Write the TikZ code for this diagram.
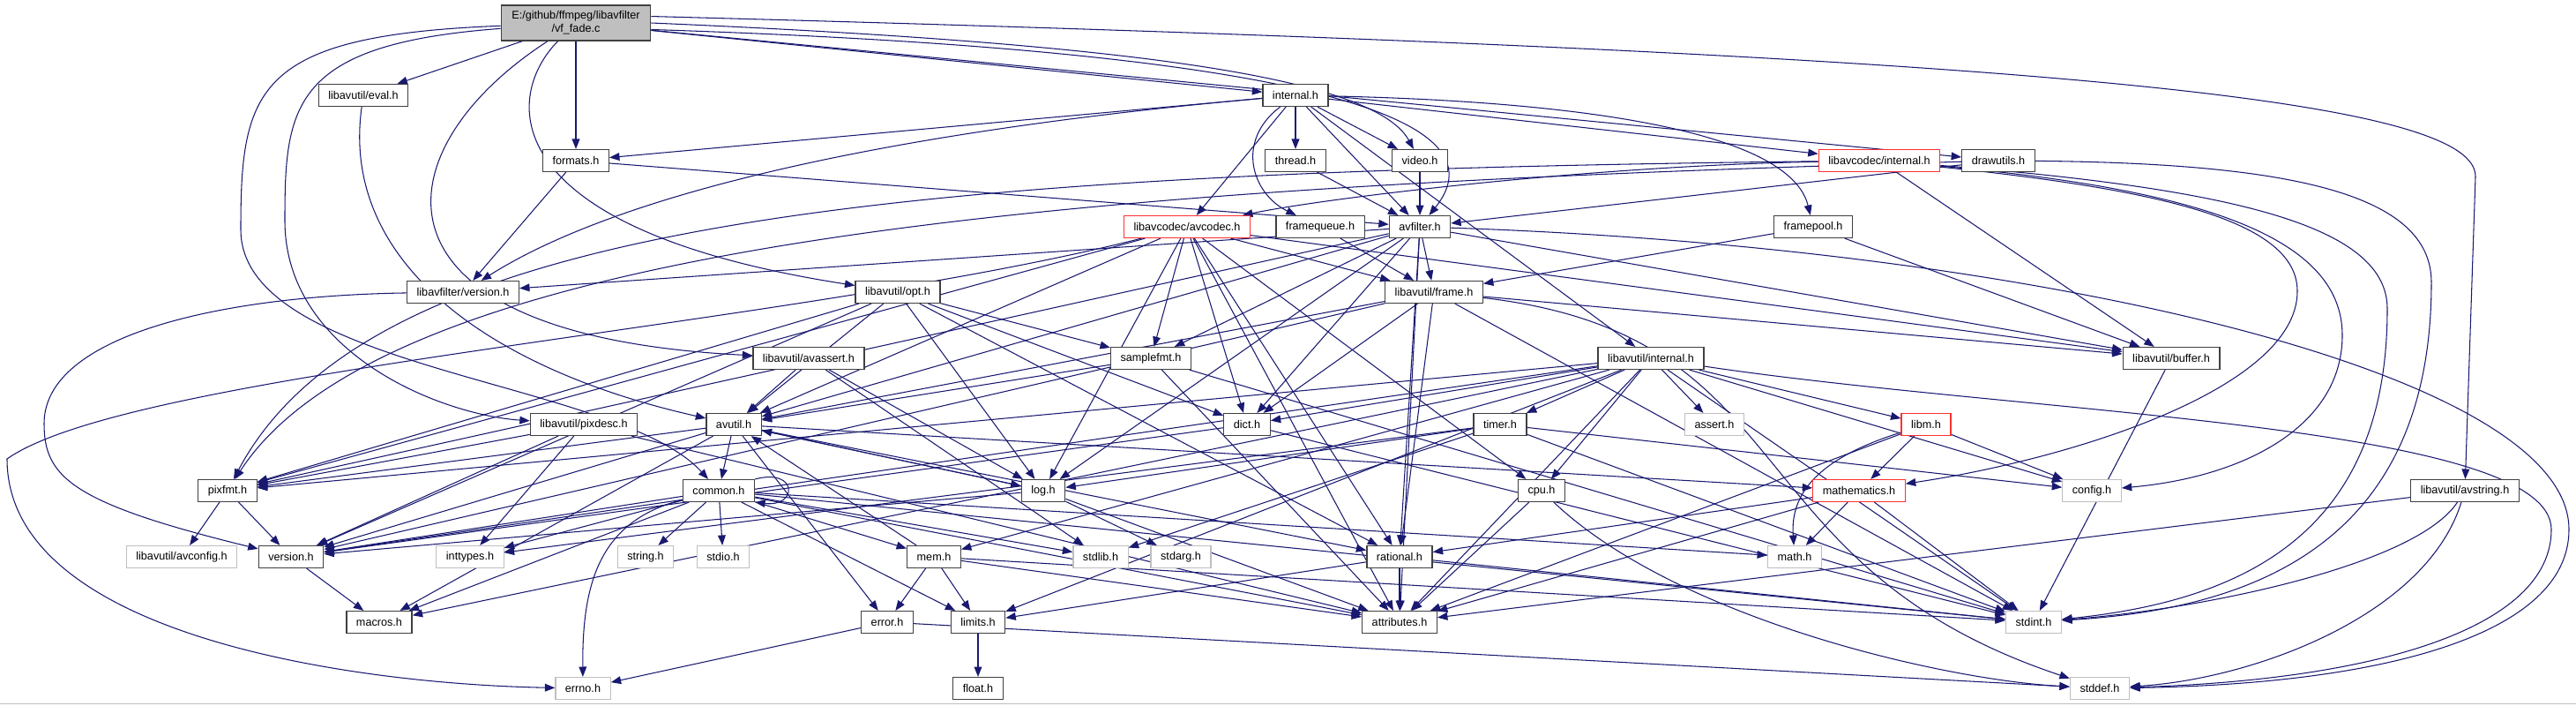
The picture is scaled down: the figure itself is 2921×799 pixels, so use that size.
\documentclass[tikz,border=0pt]{standalone}
\usepackage{fontspec}
\setmainfont{Liberation Sans}
\usetikzlibrary{arrows.meta}
\definecolor{dxEdge}{HTML}{191970}
\definecolor{dxRed}{HTML}{FF3030}
\definecolor{dxGrey}{HTML}{BFBFBF}
\definecolor{dxBorder}{HTML}{404040}
\pgfdeclarelayer{edges}
\pgfsetlayers{edges,main}
\tikzset{
  hdr/.style     = {draw=dxBorder, fill=white, line width=0.7pt, inner xsep=6.3pt, inner ysep=0pt,
                    minimum height=14.2pt, font=\fontsize{7.2}{8.6}\selectfont},
  hdrred/.style  = {hdr, draw=dxRed},
  hdrsys/.style  = {hdr, draw=dxGrey},
  rootbox/.style = {hdr, fill=dxGrey, align=center, inner xsep=2pt, minimum width=96.4pt, minimum height=22.7pt},
  dep/.style     = {-{Triangle[length=6.5pt, width=5pt]}, dxEdge, line width=0.6pt},
}

\begin{document}
\begin{tikzpicture}[x=0.02cm, y=-0.02cm]
\useasboundingbox (0,0) rectangle (2921,799);
\draw[dxGrey, line width=0.6pt] (0,797.5) -- (2921,797.5);

% ---- ranks 0-3 -------------------------------------------------------------
\node[rootbox] (vf) at (653,26) {E:/github/ffmpeg/libavfilter\\/vf\_fade.c};
\node[hdr]    (eval)      at (412,108)  {libavutil/eval.h};
\node[hdr]    (lafint)    at (1469,108) {internal.h};
\node[hdr]    (formats)   at (653,182)  {formats.h};
\node[hdr]    (thread)    at (1469,182) {thread.h};
\node[hdr]    (video)     at (1610,182) {video.h};
\node[hdrred] (lcint)     at (2131,182) {libavcodec/internal.h};
\node[hdr]    (drawutils) at (2266,182) {drawutils.h};
\node[hdrred] (avcodec)   at (1346,257) {libavcodec/avcodec.h};
\node[hdr]    (fqueue)    at (1497,257) {framequeue.h};
\node[hdr]    (avfilter)  at (1610,257) {avfilter.h};
\node[hdr]    (fpool)     at (2056,257) {framepool.h};

% ---- ranks 4-6 -------------------------------------------------------------
\node[hdr]    (lafver)    at (525,331)  {libavfilter/version.h};
\node[hdr]    (opt)       at (1018,331) {libavutil/opt.h};
\node[hdr]    (frame)     at (1626,331) {libavutil/frame.h};
\node[hdr]    (avassert)  at (917,406)  {libavutil/avassert.h};
\node[hdr]    (samplefmt) at (1305,406) {samplefmt.h};
\node[hdr]    (luint)     at (1872,406) {libavutil/internal.h};
\node[hdr]    (buffer)    at (2462,406) {libavutil/buffer.h};
\node[hdr]    (pixdesc)   at (662,481)  {libavutil/pixdesc.h};
\node[hdr]    (avutil)    at (832,481)  {avutil.h};
\node[hdr]    (dict)      at (1414,481) {dict.h};
\node[hdr]    (timer)     at (1701,481) {timer.h};
\node[hdrsys] (assert)    at (1944,481) {assert.h};
\node[hdrred] (libm)      at (2184,481) {libm.h};

% ---- ranks 7-10 ------------------------------------------------------------
\node[hdr]    (pixfmt)    at (258,556)  {pixfmt.h};
\node[hdr]    (common)    at (815,556)  {common.h};
\node[hdr]    (log)       at (1183,556) {log.h};
\node[hdr]    (cpu)       at (1748,556) {cpu.h};
\node[hdrred] (mathematics) at (2108,556) {mathematics.h};
\node[hdrsys] (config)    at (2372,556) {config.h};
\node[hdr]    (avstring)  at (2795,556) {libavutil/avstring.h};
\node[hdrsys] (avconfig)  at (206,631)  {libavutil/avconfig.h};
\node[hdr]    (version)   at (330,631)  {version.h};
\node[hdrsys] (inttypes)  at (533,631)  {inttypes.h};
\node[hdrsys] (string)    at (732,631)  {string.h};
\node[hdrsys] (stdio)     at (820,631)  {stdio.h};
\node[hdr]    (mem)       at (1059,631) {mem.h};
\node[hdrsys] (stdlib)    at (1248,631) {stdlib.h};
\node[hdrsys] (stdarg)    at (1339,631) {stdarg.h};
\node[hdr]    (rational)  at (1587,631) {rational.h};
\node[hdrsys] (math)      at (2035,631) {math.h};
\node[hdr]    (macros)    at (430,705)  {macros.h};
\node[hdr]    (error)     at (1006,705) {error.h};
\node[hdr]    (limits)    at (1109,705) {limits.h};
\node[hdr]    (attributes) at (1587,705) {attributes.h};
\node[hdrsys] (stdint)    at (2306,705) {stdint.h};
\node[hdrsys] (errno)     at (661,780)  {errno.h};
\node[hdr]    (float)     at (1109,780) {float.h};
\node[hdrsys] (stddef)    at (2381,780) {stddef.h};

\begin{pgfonlayer}{edges}
% ---- straight includes -----------------------------------------------------
\foreach \s/\t in {vf/eval, vf/formats, vf/lafint, vf/drawutils,
    lafint/thread, lafint/video, lafint/avfilter, lafint/avcodec, lafint/lcint,
    lafint/formats, lafint/luint,
    formats/avfilter, formats/lafver, thread/avfilter, video/avfilter,
    lcint/buffer, drawutils/avfilter,
    avcodec/samplefmt, avcodec/attributes, avcodec/avutil, avcodec/buffer, avcodec/cpu,
    avcodec/dict, avcodec/frame, avcodec/log, avcodec/pixfmt, avcodec/rational,
    fqueue/frame, fpool/buffer, fpool/frame,
    avfilter/attributes, avfilter/avutil, avfilter/buffer, avfilter/dict, avfilter/frame,
    avfilter/log, avfilter/samplefmt, avfilter/pixfmt, avfilter/rational, avfilter/lafver,
    opt/rational, opt/avutil, opt/dict, opt/log, opt/pixfmt, opt/samplefmt, opt/version,
    frame/stdint, frame/avutil, frame/buffer, frame/dict, frame/rational, frame/version,
    avassert/stdlib, avassert/avutil, avassert/log,
    samplefmt/stdint, samplefmt/avutil, samplefmt/attributes,
    luint/limits, luint/stdint, luint/assert, luint/config, luint/attributes, luint/timer,
    luint/cpu, luint/dict, luint/macros, luint/mem, luint/pixfmt, luint/version, luint/libm,
    buffer/stdint,
    pixdesc/inttypes, pixdesc/attributes, pixdesc/pixfmt, pixdesc/version,
    avutil/common, avutil/error, avutil/rational, avutil/version, avutil/macros,
    avutil/mathematics, avutil/log, avutil/pixfmt,
    dict/stdint, dict/version,
    timer/config, timer/stdlib, timer/stdint, timer/inttypes, timer/log,
    libm/config, libm/attributes, libm/mathematics,
    pixfmt/avconfig, pixfmt/version,
    common/inttypes, common/limits, common/math, common/stdint, common/stdio, common/stdlib,
    common/string, common/attributes, common/macros, common/version, common/mem,
    log/avutil, log/attributes, log/version, log/stdarg,
    cpu/attributes,
    mathematics/stdint, mathematics/math, mathematics/attributes, mathematics/rational,
    avstring/attributes, version/macros,
    mem/error, mem/limits, mem/attributes, mem/stdint, mem/avutil,
    rational/stdint, rational/limits, rational/attributes,
    error/errno, error/stddef, limits/float}
  \draw[dep] (\s) -- (\t);

% ---- routed includes -------------------------------------------------------
\draw[dep] (vf.east) .. controls (1300,50) and (1560,90) .. (video);
\draw[dep] (vf.-5) .. controls (1400,55) and (1720,120) .. (avfilter);
\draw[dep] (vf.5) .. controls (2300,60) and (2807,110) .. (2807,200) -- (avstring);
\draw[dep] (vf) .. controls (570,110) and (560,260) .. (opt);
\draw[dep] (vf) .. controls (330,50) and (323,120) .. (323,250) .. controls (323,400) and (500,470) .. (pixdesc);
\draw[dep] (vf) .. controls (290,40) and (273,100) .. (273,260) .. controls (273,420) and (700,430) .. (common);
\draw[dep] (vf) .. controls (430,170) and (400,380) .. (avassert);
\draw[dep] (eval) .. controls (385,300) and (560,420) .. (avutil);

\draw[dep] (lafint) .. controls (1400,160) and (1420,220) .. (fqueue);
\draw[dep] (lafint) .. controls (1800,115) and (2030,150) .. (fpool);
\draw[dep] (lafint) .. controls (1000,150) and (700,220) .. (lafver);

\draw[dep] (lcint) .. controls (1800,188) and (1500,225) .. (avcodec);
\draw[dep] (lcint) .. controls (1000,195) and (420,250) .. (pixfmt);
\draw[dep] (lcint) .. controls (2450,215) and (2605,250) .. (2605,330) .. controls (2605,440) and (2350,520) .. (mathematics);
\draw[dep] (lcint) .. controls (2550,215) and (2707,260) .. (2707,350) .. controls (2707,600) and (2550,680) .. (stdint);
\draw[dep] (lcint) .. controls (2500,215) and (2656,270) .. (2656,380) .. controls (2656,480) and (2550,540) .. (config);
\draw[dep] (drawutils) .. controls (1300,210) and (450,260) .. (pixfmt);
\draw[dep] (drawutils) .. controls (2600,185) and (2757,220) .. (2757,320) .. controls (2757,620) and (2550,690) .. (stdint);

\draw[dep] (avcodec) .. controls (900,370) and (150,420) .. (8,520) .. controls (8,720) and (400,775) .. (errno);
\draw[dep] (avfilter) .. controls (2300,280) and (2913,420) .. (2913,600) .. controls (2913,720) and (2700,775) .. (stddef);
\draw[dep] (frame) .. controls (2050,380) and (1960,640) .. (stddef);
\draw[dep] (luint) .. controls (2300,470) and (2893,480) .. (2893,600) .. controls (2893,710) and (2700,770) .. (stddef);
\draw[dep] (cpu) .. controls (1900,700) and (2200,770) .. (stddef);
\draw[dep] (avstring) .. controls (2750,700) and (2550,770) .. (stddef);
\draw[dep] (avstring) .. controls (2740,640) and (2500,690) .. (stdint);
\draw[dep] (lafver) .. controls (250,335) and (50,380) .. (50,480) .. controls (50,540) and (80,570) .. (version);
\draw[dep] (libm) .. controls (2060,520) and (2030,560) .. (math);
\draw[dep] (common) .. controls (680,590) and (660,660) .. (errno);
\draw[dep] (common.north east) .. controls (905,530) and (905,575) .. (common.south east);
\end{pgfonlayer}
\end{tikzpicture}
\end{document}
